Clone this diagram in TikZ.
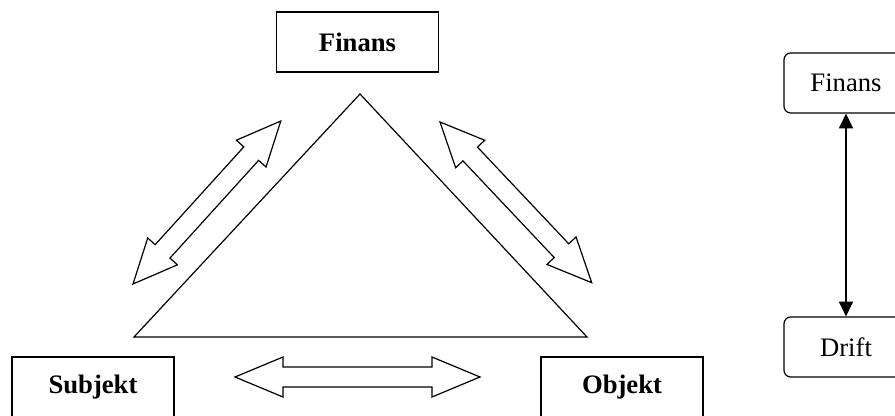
\documentclass[tikz,border=0pt]{standalone}
\usepackage{fontspec}
\setmainfont{Liberation Serif}
\usetikzlibrary{arrows.meta}

\tikzset{
  sqbox/.style={draw, line width=1.1pt, minimum width=121.5pt, minimum height=45pt,
    font=\fontsize{20}{24}\selectfont\bfseries},
  rbox/.style={draw, line width=0.9pt, rounded corners=5pt, minimum width=93pt,
    minimum height=45pt, font=\fontsize{20}{24}\selectfont},
  outline/.style={draw, line width=0.9pt, line join=miter},
  link/.style={line width=0.8pt, {Triangle[length=11pt,width=10.5pt]}-{Triangle[length=11pt,width=10.5pt]}},
  % hollow two-headed block arrow along the local x axis, length #1
  pics/dblarrow/.style={code={
    \draw[outline] (0,0) -- (44,20) -- (44,10) -- (#1-44,10) -- (#1-44,20) -- (#1,0)
      -- (#1-44,-20) -- (#1-44,-10) -- (44,-10) -- (44,-20) -- cycle;
  }},
  pics/hdblarrow/.style={code={
    \draw[outline] (0,0) -- (48,20) -- (48,10) -- (#1-48,10) -- (#1-48,20) -- (#1,0)
      -- (#1-48,-20) -- (#1-48,-10) -- (48,-10) -- (48,-20) -- cycle;
  }}
}

\begin{document}
\begin{tikzpicture}[x=0.75pt,y=-0.75pt]
  \useasboundingbox (0,0) rectangle (895,416);

  % three parties around the triangle
  \node[sqbox] (finans) at (357.5,42) {Finans};
  \node[sqbox] (subjekt) at (93,387) {Subjekt};
  \node[sqbox] (objekt) at (622,387) {Objekt};

  % central triangle
  \draw[outline] (360,94) -- (134,337) -- (587,337) -- cycle;

  % exchange arrows on the three sides
  \pic[rotate=47.8] at (133,284) {dblarrow=220};
  \pic[rotate=-46.65] at (440,122) {dblarrow=221};
  \pic at (235,377) {hdblarrow=245};

  % finance / operation pair on the right
  \node[rbox] (finans2) at (846,83) {Finans};
  \node[rbox] (drift) at (846,347) {Drift};
  \draw[link] (finans2) -- (drift);
\end{tikzpicture}
\end{document}
